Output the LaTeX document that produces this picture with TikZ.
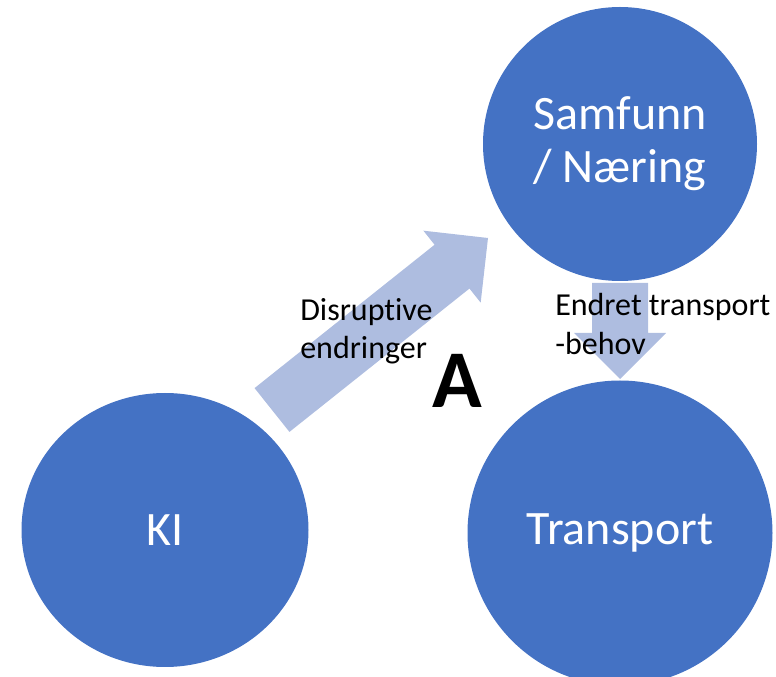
\documentclass[tikz,border=0pt]{standalone}
\usepackage{fontspec}
\setmainfont{Carlito}[Ligatures=NoCommon]
\usetikzlibrary{calc}
\usetikzlibrary{shapes.geometric}
\definecolor{kiblaa}{HTML}{4472C4}
\definecolor{pilblaa}{HTML}{AEBDE0}
\tikzset{
	sirkel/.style={ellipse, fill=kiblaa, text=white, inner sep=0pt, align=center, font=\fontsize{36}{40}\selectfont},
	pil/.style={fill=pilblaa},
	etikett/.style={anchor=north west, inner sep=0pt, align=left, font=\fontsize{24}{29}\selectfont}
}
\newcommand{\blockarrow}[2]{%
	\coordinate (#2-hode) at ($(#2)!34.5pt!(#1)$);
	\fill[pil] ($(#1)!21pt!-90:(#2)$) -- ($(#2-hode)!21pt!-90:(#2)$) -- ($(#2-hode)!34.5pt!-90:(#2)$) -- (#2)
		-- ($(#2-hode)!34.5pt!90:(#2)$) -- ($(#2-hode)!21pt!90:(#2)$) -- ($(#1)!21pt!90:(#2)$) -- cycle;
}

\begin{document}
\begin{tikzpicture}[x=0.75pt,y=-0.75pt]
	\useasboundingbox (0,0) rectangle (776,677);
	\node[sirkel, minimum width=215.25pt, minimum height=205.5pt] (ki) at (165,530) {KI};
	\node[sirkel, minimum width=205.5pt, minimum height=205.5pt] (samfunn) at (620,144) {Samfunn\\/ Næring};
	\node[sirkel, minimum width=228.75pt, minimum height=228.75pt] (transport) at (620,533) {Transport};
	\coordinate (dis-fra) at (272,410);
	\coordinate (dis-til) at (488,238);
	\coordinate (beh-fra) at (620,283);
	\coordinate (beh-til) at (620,379);
	\blockarrow{dis-fra}{dis-til}
	\blockarrow{beh-fra}{beh-til}
	\node[etikett] (disruptive) at (300,298) {Disruptive\\endringer};
	\node[etikett] (endret) at (555,293) {Endret transport\\-behov};
	\node[anchor=base west, inner sep=0pt, font=\fontsize{61.5}{70}\selectfont\bfseries] (a) at (432,408) {A};
\end{tikzpicture}
\end{document}
